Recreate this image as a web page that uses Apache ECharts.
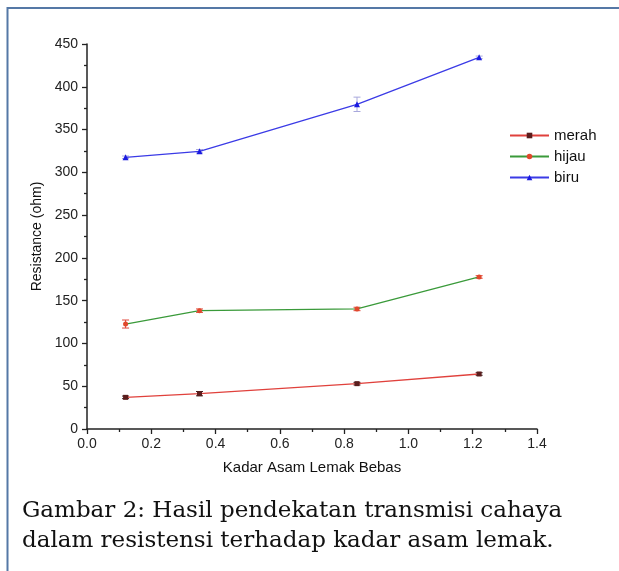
<!DOCTYPE html>
<html>
<head>
<meta charset="utf-8">
<script src="https://cdn.jsdelivr.net/npm/echarts@6/dist/echarts.min.js"></script>
<style>
html,body{margin:0;padding:0;background:#fff;}
#chart{width:619px;height:571px;}
</style>
</head>
<body>
<div id="chart"></div>
<script>
const xVals = [0.12, 0.35, 0.84, 1.22];
const seriesNames = ['merah', 'hijau', 'biru'];
const merah = [37, 41.3, 53, 64.3];
const merahErr = [1.5, 2.5, 1.5, 1.5];
const hijau = [122.7, 138.3, 140.3, 177.7];
const hijauErr = [4.7, 2, 2, 1.5];
const biru = [317.6, 324.6, 379.5, 434.4];
const biruErr = [1.5, 2, 8.4, 1.5];
const xTicks = [0.0, 0.2, 0.4, 0.6, 0.8, 1.0, 1.2, 1.4];
const yTicks = [0, 50, 100, 150, 200, 250, 300, 350, 400, 450];
const captionLines = ['Gambar 2: Hasil pendekatan transmisi cahaya', 'dalam resistensi terhadap kadar asam lemak.'];

const styles = {
  merah: {line: '#e0413c', marker: '#5a1d1d', symbol: 'rect', err: '#3a2020'},
  hijau: {line: '#3a9a3a', marker: '#e0482c', symbol: 'circle', err: '#e0483c'},
  biru:  {line: '#3b3be6', marker: '#1a1ae0', symbol: 'triangle', err: '#a8a8dc'}
};
const values = {merah, hijau, biru};
const errs = {merah: merahErr, hijau: hijauErr, biru: biruErr};

function pairs(arr){ return xVals.map((x, i) => [x, arr[i]]); }

const series = [];
seriesNames.forEach(name => {
  const st = styles[name];
  series.push({
    type: 'custom',
    name: name + '_err',
    z: 1,
    silent: true,
    data: xVals.map((x, i) => [x, values[name][i] - errs[name][i], values[name][i] + errs[name][i]]),
    renderItem: function(params, api){
      const lo = api.coord([api.value(0), api.value(1)]);
      const hi = api.coord([api.value(0), api.value(2)]);
      const w = 3.5;
      const s = {stroke: st.err, lineWidth: 1};
      return {type: 'group', children: [
        {type: 'line', shape: {x1: lo[0], y1: lo[1], x2: hi[0], y2: hi[1]}, style: s},
        {type: 'line', shape: {x1: lo[0]-w, y1: lo[1], x2: lo[0]+w, y2: lo[1]}, style: s},
        {type: 'line', shape: {x1: hi[0]-w, y1: hi[1], x2: hi[0]+w, y2: hi[1]}, style: s}
      ]};
    }
  });
});
seriesNames.forEach(name => {
  const st = styles[name];
  series.push({
    type: 'line',
    name: name,
    z: 3,
    data: pairs(values[name]),
    symbol: st.symbol,
    symbolSize: name === 'biru' ? 6 : 5,
    showSymbol: true,
    lineStyle: {color: st.line, width: 1.3},
    itemStyle: {color: st.marker},
    color: st.line
  });
});

const chart = echarts.init(document.getElementById('chart'), null, {renderer: 'canvas'});
chart.setOption({
  animation: false,
  backgroundColor: '#fff',
  grid: {left: 87, right: 82, top: 44, bottom: 142, containLabel: false},
  legend: {
    data: seriesNames.map(n => ({name: n, itemStyle: {color: styles[n].marker}, lineStyle: {color: styles[n].line}})),
    orient: 'vertical',
    left: 504, top: 123,
    itemWidth: 39, itemHeight: 7, itemGap: 6,
    textStyle: {fontFamily: 'Liberation Sans, Arial', fontSize: 15, color: '#111'}
  },
  xAxis: {
    type: 'value', min: 0, max: 1.4, interval: 0.2,
    name: 'Kadar Asam Lemak Bebas', nameLocation: 'middle', nameGap: 31,
    nameTextStyle: {fontFamily: 'Liberation Sans, Arial', fontSize: 15, color: '#111'},
    axisLine: {onZero: false, lineStyle: {color: '#222', width: 1.5}},
    axisTick: {show: true, inside: false, length: 5, lineStyle: {color: '#222', width: 1.3}},
    minorTick: {show: true, splitNumber: 2, length: 3, lineStyle: {color: '#222', width: 1.3}},
    splitLine: {show: false},
    axisLabel: {fontFamily: 'Liberation Sans, Arial', fontSize: 14, color: '#222', margin: 8,
      formatter: v => { const t = xTicks.find(k => Math.abs(k - v) < 1e-9); return (t === undefined ? v : t).toFixed(1); }}
  },
  yAxis: {
    type: 'value', min: 0, max: 450, interval: 50,
    name: 'Resistance (ohm)', nameLocation: 'middle', nameGap: 30,
    nameTextStyle: {fontFamily: 'Liberation Sans, Arial', fontSize: 14, color: '#111'},
    axisLine: {show: true, onZero: false, lineStyle: {color: '#222', width: 1.5}},
    axisTick: {show: true, inside: false, length: 5, lineStyle: {color: '#222', width: 1.3}},
    minorTick: {show: true, splitNumber: 2, length: 3, lineStyle: {color: '#222', width: 1.3}},
    splitLine: {show: false},
    axisLabel: {fontFamily: 'Liberation Sans, Arial', fontSize: 14, color: '#222', margin: 9,
      formatter: v => String(yTicks.find(k => k === v) ?? v)}
  },
  graphic: [
    {type: 'line', shape: {x1: 7.5, y1: 8, x2: 619, y2: 8}, style: {stroke: '#5578a6', lineWidth: 2}, z: 10},
    {type: 'line', shape: {x1: 7.5, y1: 7, x2: 7.5, y2: 571}, style: {stroke: '#5578a6', lineWidth: 2}, z: 10},
    {type: 'text', left: 22, top: 500, style: {text: captionLines[0], font: '23px "DejaVu Serif"', fill: '#111'}},
    {type: 'text', left: 22, top: 530, style: {text: captionLines[1], font: '23px "DejaVu Serif"', fill: '#111'}}
  ],
  series: series
});
</script>
</body>
</html>
